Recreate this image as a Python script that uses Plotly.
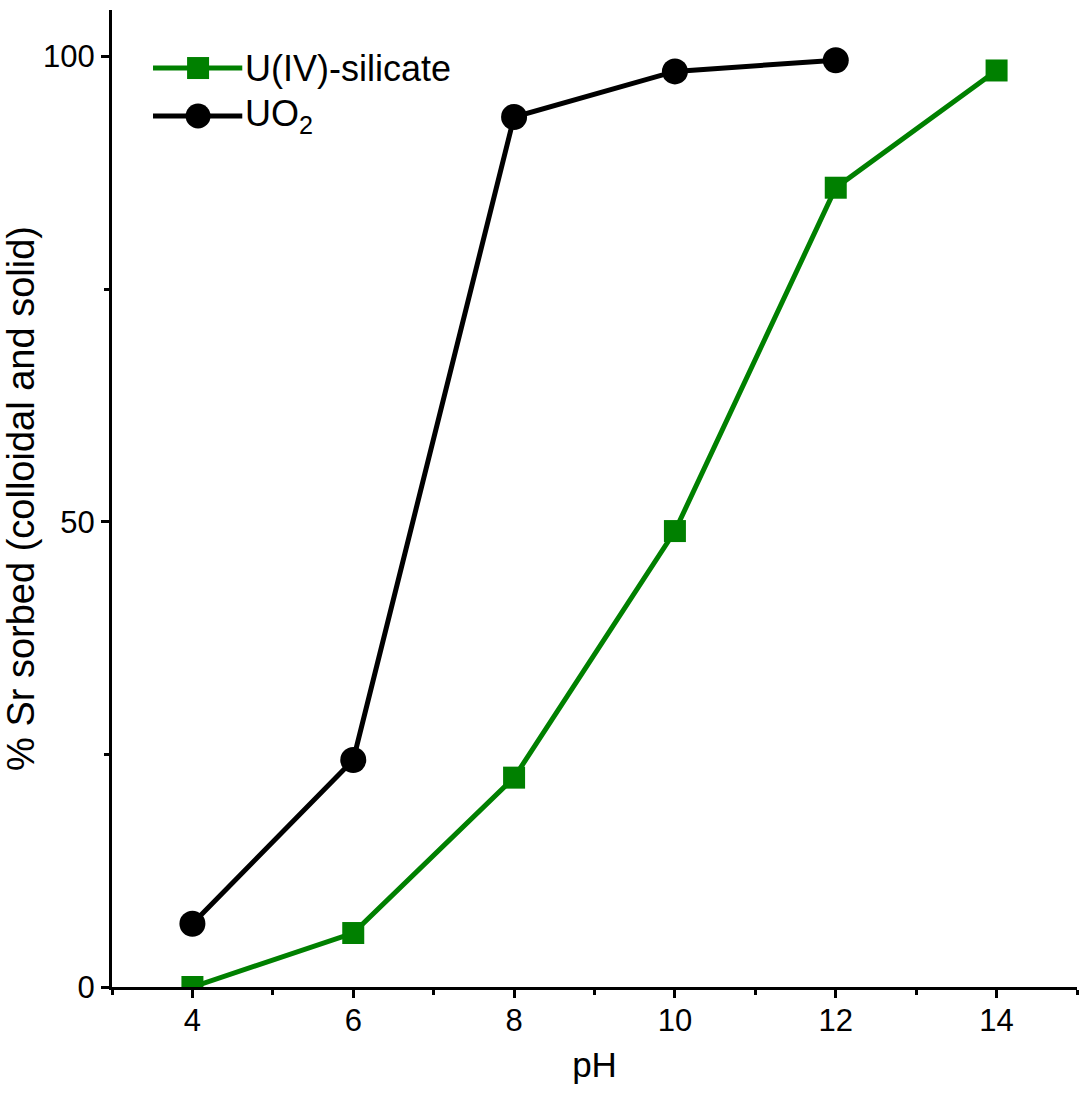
import plotly.graph_objects as go

# Sr sorption vs pH on two uranium solids
ph_silicate = [4, 6, 8, 10, 12, 14]
sorbed_silicate = [0.0, 5.8, 22.5, 49.0, 85.9, 98.5]

ph_uo2 = [4, 6, 8, 10, 12]
sorbed_uo2 = [6.8, 24.4, 93.5, 98.4, 99.6]

series_names = ["U(IV)-silicate", "UO<sub>2</sub>"]
x_ticks = [4, 6, 8, 10, 12, 14]
y_ticks = [0, 50, 100]

GREEN = "#008000"
BLACK = "#000000"
FONT = "Liberation Sans, Arial, sans-serif"

fig = go.Figure()

fig.add_trace(go.Scatter(
    x=ph_uo2, y=sorbed_uo2, mode="lines+markers", name=series_names[1],
    line=dict(color=BLACK, width=5),
    marker=dict(symbol="circle", size=26, color=BLACK),
    showlegend=False,
))
fig.add_trace(go.Scatter(
    x=ph_silicate, y=sorbed_silicate, mode="lines+markers", name=series_names[0],
    line=dict(color=GREEN, width=5),
    marker=dict(symbol="square", size=22, color=GREEN),
    showlegend=False,
))

# hand-built legend with long line samples
legend_rows = [
    (series_names[0], GREEN, "rect", 0.9406),
    (series_names[1], BLACK, "circle", 0.8915),
]
line_x0, line_x1, marker_x = 0.0425, 0.135, 0.0892
for label, color, kind, ypos in legend_rows:
    fig.add_shape(type="line", xref="paper", yref="paper",
                  x0=line_x0, x1=line_x1, y0=ypos, y1=ypos,
                  line=dict(color=color, width=5))
    half = 11 if kind == "rect" else 12.5
    fig.add_shape(type=kind, xref="paper", yref="paper",
                  xsizemode="pixel", ysizemode="pixel",
                  xanchor=marker_x, yanchor=ypos,
                  x0=-half, x1=half, y0=-half, y1=half,
                  fillcolor=color, line=dict(color=color, width=0))
    fig.add_annotation(xref="paper", yref="paper", x=0.136, y=ypos,
                       text=label, showarrow=False, xanchor="left",
                       yanchor="middle", align="left",
                       font=dict(family=FONT, size=36, color=BLACK))

axis_common = dict(
    showline=True, linecolor=BLACK, linewidth=3,
    ticks="outside", tickcolor=BLACK, tickwidth=3, ticklen=8,
    showgrid=False, zeroline=False, mirror=False, automargin=False,
    tickfont=dict(family=FONT, size=31, color=BLACK),
)

fig.update_layout(
    width=1086, height=1097,
    margin=dict(l=112, r=9, t=10, b=110),
    paper_bgcolor="white", plot_bgcolor="white",
    xaxis=dict(
        range=[3, 15], tickmode="array", tickvals=x_ticks,
        ticklabelstandoff=-4,
        minor=dict(dtick=1, tick0=3, ticks="outside", ticklen=5,
                   tickwidth=3, tickcolor=BLACK),
        title=dict(text="pH", standoff=16,
                   font=dict(family=FONT, size=35, color=BLACK)),
        **axis_common,
    ),
    yaxis=dict(
        range=[0, 105], tickmode="array", tickvals=y_ticks,
        minor=dict(dtick=25, tick0=0, ticks="outside", ticklen=5,
                   tickwidth=3, tickcolor=BLACK),
        title=dict(text="% Sr sorbed (colloidal and solid)", standoff=12,
                   font=dict(family=FONT, size=38, color=BLACK)),
        **axis_common,
    ),
)

fig.write_html("out.html")
